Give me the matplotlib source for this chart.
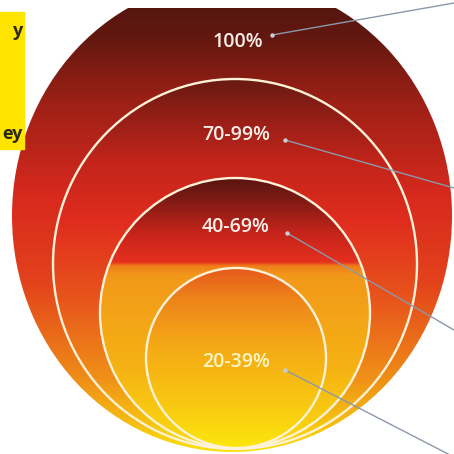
import numpy as np
import matplotlib.pyplot as plt
from matplotlib.patches import Ellipse, Rectangle
from matplotlib.colors import LinearSegmentedColormap

W = H = 454

# --- content ---
labels = ["100%", "70-99%", "40-69%", "20-39%"]
label_colors = ["#fbeee8", "#fbeee8", "#fbeee8", "#fff4c4"]
side_words = ["y", "ey"]

# --- layout (pixels, y grows downward) ---
# nested rings: centre x, centre y, x radius, y radius
RINGS = [(232, 216, 220, 236), (235, 264, 182, 185), (235, 313, 135, 135), (236, 358, 90, 90)]
LABEL_XY = [(238, 42), (236, 135), (236, 227), (236, 362)]
LEADER_START = [(272, 35), (285, 140), (287, 233), (285, 370)]
LEADER_END = [(454, 3), (454, 188), (454, 330), (452, 456)]
TOP_CUT = 8

# vertical colour ramps, top of ring -> bottom of ring
RAMPS = [
    [(0.0, "#4a1410"), (0.12, "#62180f"), (0.26, "#9e2016"), (0.46, "#d8291e"),
     (0.64, "#e3421c"), (0.83, "#ee8618"), (0.94, "#f5bc12"), (1.0, "#fbe00e")],
    [(0.0, "#681a13"), (0.08, "#8c1e16"), (0.22, "#c2241a"), (0.38, "#e02c1f"),
     (0.6, "#e8561c"), (0.81, "#f09018"), (0.95, "#f7cc10"), (1.0, "#fbe00e")],
    [(0.0, "#5a150f"), (0.07, "#7a1a14"), (0.2, "#c4241a"), (0.31, "#e6301f"),
     (0.325, "#ef801a"), (0.36, "#f2981a"), (0.7, "#f5b214"), (1.0, "#fbdc0e")],
    [(0.0, "#e65a1c"), (0.18, "#ee861a"), (0.42, "#f4a816"), (0.74, "#f8c612"),
     (1.0, "#fce60c")],
]

fig = plt.figure(figsize=(W / 100, H / 100), dpi=100)
ax = fig.add_axes([0, 0, 1, 1])
ax.set_xlim(0, W)
ax.set_ylim(H, 0)
ax.axis("off")

for i, ((cx, cy, rx, ry), ramp) in enumerate(zip(RINGS, RAMPS)):
    top, bottom = cy - ry, cy + ry
    cmap = LinearSegmentedColormap.from_list(f"ring{i}", ramp)
    grad = np.linspace(0, 1, 400).reshape(-1, 1)
    # rows of the image that fall above the cut are dropped
    y0 = max(top, TOP_CUT)
    frac0 = (y0 - top) / (bottom - top)
    grad = grad[grad[:, 0] >= frac0]
    im = ax.imshow(grad, cmap=cmap, vmin=0, vmax=1, aspect="auto",
                   extent=(cx - rx, cx + rx, bottom, y0), interpolation="bilinear",
                   zorder=1 + i)
    clip = Ellipse((cx, cy), 2 * rx, 2 * ry, transform=ax.transData)
    im.set_clip_path(clip)
    if i > 0:
        ax.add_patch(Ellipse((cx, cy), 2 * rx, 2 * ry, fill=False,
                             edgecolor="#fff2d8", lw=1.7, zorder=1 + i))

# leader lines
for (x0, y0), (x1, y1) in zip(LEADER_START, LEADER_END):
    ax.plot([x0, x1], [y0, y1], color="#8c98aa", lw=1.0, zorder=10,
            solid_capstyle="round")
    ax.plot([x0], [y0], "o", ms=2.2, color="#c8ccd6", zorder=10)

for text, (x, y), c in zip(labels, LABEL_XY, label_colors):
    ax.text(x, y, text, ha="center", va="center", fontsize=14, color=c,
            family="Open Sans", weight="semibold", zorder=11)

# side panel
ax.add_patch(Rectangle((0, 12), 24, 137, color="#ffe400", zorder=5))
ax.text(23, 31, side_words[0], ha="right", va="center", fontsize=13,
        color="#2a2a14", family="Open Sans", weight="bold", zorder=6)
ax.text(23, 134, side_words[1], ha="right", va="center", fontsize=13,
        color="#2a2a14", family="Open Sans", weight="bold", zorder=6)

fig.savefig("out.png", dpi=100)
